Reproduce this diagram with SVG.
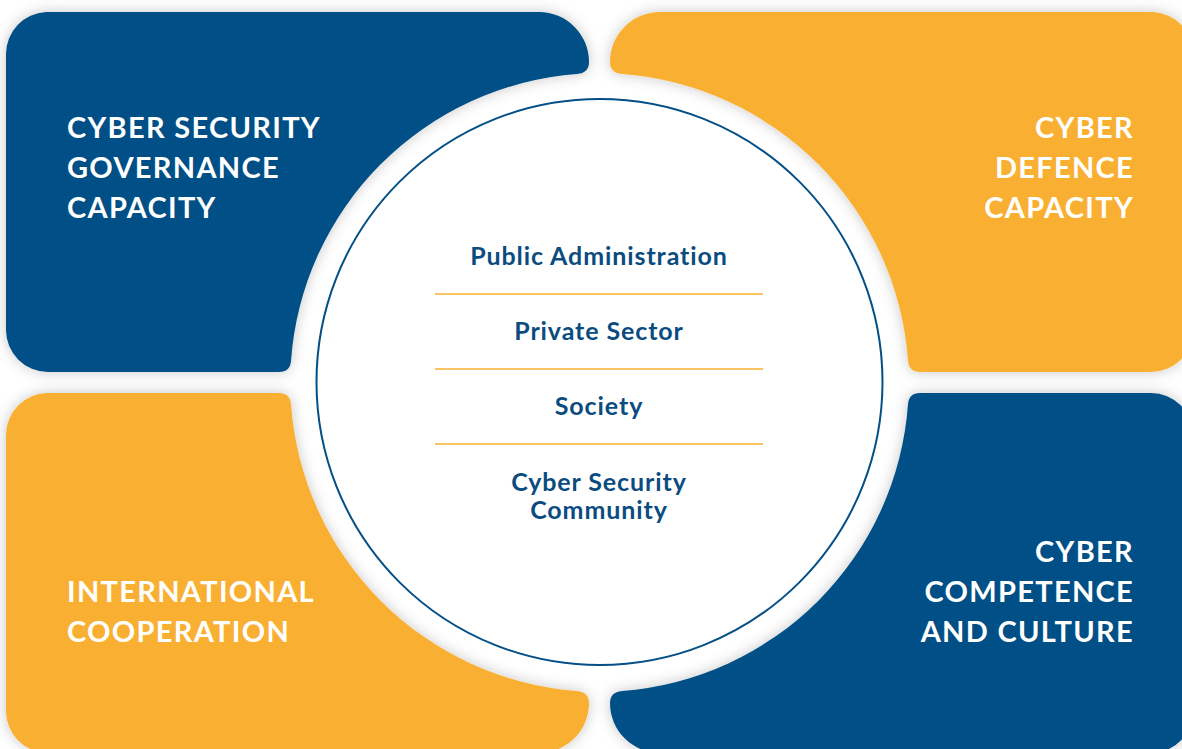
<svg xmlns="http://www.w3.org/2000/svg" xmlns:xlink="http://www.w3.org/1999/xlink" width="1182" height="749" viewBox="0 0 1182 749">
<style>
.blue{fill:#034F86}
.orange{fill:#F9B032}
.lbl{font-family:Lato,"Open Sans","Liberation Sans",sans-serif;font-weight:700;font-size:29px;fill:#FFFFFF;letter-spacing:1.3px}
.ctr{font-family:Lato,"Open Sans","Liberation Sans",sans-serif;font-weight:700;font-size:25px;fill:#0B4C80;text-anchor:middle;letter-spacing:0.9px}
.sep{stroke:#F9B032;stroke-width:1.5}
</style>
<defs>
<filter id="sh" x="-10%" y="-10%" width="120%" height="120%">
<feDropShadow dx="0" dy="0" stdDeviation="7" flood-color="#000000" flood-opacity="0.22"/>
</filter>
<path id="q" d="M46,12 H539 A50,50 0 0 1 589,62 Q589,73 577,74 A310,310 0 0 0 291,361 Q290,372 279,372 H48 A42,42 0 0 1 6,330 V54 A42,42 0 0 1 46,12 Z"/>
</defs>
<rect width="1182" height="749" fill="#FFFFFF"/>
<g id="node-governance">
<g filter="url(#sh)"><use xlink:href="#q" class="blue"/></g>
<text class="lbl" x="67" y="138">CYBER SECURITY</text>
<text class="lbl" x="67" y="178">GOVERNANCE</text>
<text class="lbl" x="67" y="218">CAPACITY</text>
</g>
<g id="node-defence">
<g filter="url(#sh)"><use xlink:href="#q" class="orange" transform="translate(1199,0) scale(-1,1)"/></g>
<text class="lbl" x="1134" y="138" text-anchor="end">CYBER</text>
<text class="lbl" x="1134" y="178" text-anchor="end">DEFENCE</text>
<text class="lbl" x="1134" y="218" text-anchor="end">CAPACITY</text>
</g>
<g id="node-international">
<g filter="url(#sh)"><use xlink:href="#q" class="orange" transform="translate(0,765) scale(1,-1)"/></g>
<text class="lbl" x="67" y="602">INTERNATIONAL</text>
<text class="lbl" x="67" y="642">COOPERATION</text>
</g>
<g id="node-competence">
<g filter="url(#sh)"><use xlink:href="#q" class="blue" transform="translate(1199,765) scale(-1,-1)"/></g>
<text class="lbl" x="1134" y="562" text-anchor="end">CYBER</text>
<text class="lbl" x="1134" y="602" text-anchor="end">COMPETENCE</text>
<text class="lbl" x="1134" y="642" text-anchor="end">AND CULTURE</text>
</g>
<g id="node-center">
<circle cx="599.5" cy="382" r="283" fill="#FFFFFF" stroke="#034F86" stroke-width="2"/>
<text class="ctr" x="599" y="265">Public Administration</text>
<text class="ctr" x="599" y="340">Private Sector</text>
<text class="ctr" x="599" y="415">Society</text>
<text class="ctr" x="599" y="491">Cyber Security</text>
<text class="ctr" x="599" y="519">Community</text>
</g>
<g id="connectors">
<line class="sep" x1="435" y1="294" x2="763" y2="294"/>
<line class="sep" x1="435" y1="369" x2="763" y2="369"/>
<line class="sep" x1="435" y1="444" x2="763" y2="444"/>
</g>
</svg>
